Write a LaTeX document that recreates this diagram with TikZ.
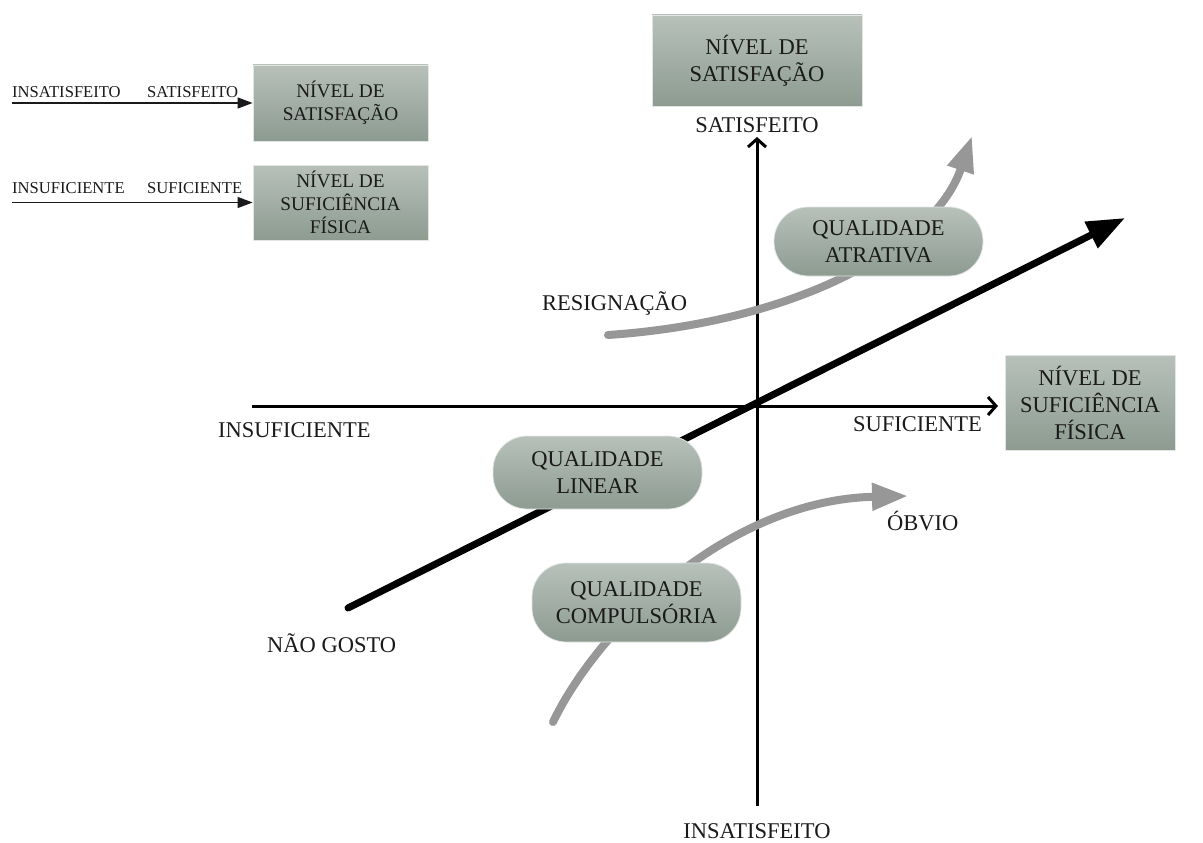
\documentclass[tikz,border=0pt]{standalone}
\usepackage{fontspec}
\setmainfont{Liberation Serif}
\usetikzlibrary{arrows.meta}
\definecolor{boxtop}{HTML}{B7C1BA}
\definecolor{boxbot}{HTML}{8D9B91}
\definecolor{boxedge}{HTML}{E2E6E3}
\definecolor{curvegray}{HTML}{979797}
\definecolor{ink}{HTML}{1A1A1A}
\begin{document}
\begin{tikzpicture}[x=1pt,y=-1pt,
  lab/.style={inner sep=0pt, text=ink, font=\fontsize{22.5}{27}\selectfont},
  smalllab/.style={inner sep=0pt, text=ink, font=\fontsize{16.6}{20}\selectfont},
  levelbox/.style={rectangle, draw=boxedge, line width=0.8pt, top color=boxtop, bottom color=boxbot,
    align=center, text=ink, inner sep=2pt, font=\fontsize{22.5}{27}\selectfont},
  smallbox/.style={levelbox, font=\fontsize{19.3}{23}\selectfont},
  qualbox/.style={levelbox, rounded corners=34pt, minimum width=209pt},
  axis/.style={line width=3pt, draw=black, -{Straight Barb[length=8pt,width=18pt]}},
  trend/.style={line width=7pt, draw=black, line cap=round, -{Triangle[length=38pt,width=28pt]}},
  path/.style={line width=8pt, draw=curvegray, line cap=round, -{Triangle[length=36pt,width=26pt]}},
  legendarrow/.style={line width=1.3pt, draw=ink, -{Triangle[length=15pt,width=11pt]}}
]
\useasboundingbox (0,0) rectangle (1203,843);

% axis end points and free ends of the curves
\coordinate (vbot) at (757,806);
\coordinate (vtop) at (757,137);
\coordinate (hleft) at (252,406);
\coordinate (hright) at (998,406);
\coordinate (tstart) at (348,608);
\coordinate (ttip) at (1125,218);
\coordinate (astart) at (608,335);
\coordinate (atip) at (972,136);
\coordinate (ostart) at (553,722);
\coordinate (otip) at (908,496);
\coordinate (l1) at (12,103);
\coordinate (l2) at (12,202.5);

% axes
\draw[axis] (vbot) -- (vtop);
\draw[axis] (hleft) -- (hright);

% quality curves (drawn under the boxes)
\draw[path] (astart) .. controls (800,322) and (935,245) .. (atip);
\draw[path] (ostart) .. controls (600,625) and (730,500) .. (otip);
\draw[trend] (tstart) -- (ttip);

% level boxes
\node[levelbox, minimum width=210pt, minimum height=91pt] (satbox) at (757,60.5) {NÍVEL DE\\SATISFAÇÃO};
\node[levelbox, minimum width=170pt, minimum height=95pt] (sufbox) at (1090,402.5) {NÍVEL DE\\SUFICIÊNCIA\\FÍSICA};
\node[smallbox, minimum width=175pt, minimum height=76pt] (lsat) at (340.5,103) {NÍVEL DE\\SATISFAÇÃO};
\node[smallbox, minimum width=175pt, minimum height=75pt] (lsuf) at (340.5,202.5) {NÍVEL DE\\SUFICIÊNCIA\\FÍSICA};

% quality boxes
\node[qualbox, minimum height=73pt] (linear) at (597.5,472.5) {QUALIDADE\\LINEAR};
\node[qualbox, minimum height=79pt] (compuls) at (636.5,602.5) {QUALIDADE\\COMPULSÓRIA};
\node[qualbox, minimum height=69pt] (atrat) at (878.5,241.5) {QUALIDADE\\ATRATIVA};

% legend arrows
\draw[legendarrow] (l1) -- (lsat.west);
\draw[legendarrow] (l2) -- (lsuf.west);
\node[smalllab, anchor=base west] (li1) at (12,97) {INSATISFEITO};
\node[smalllab, anchor=base west] (ls1) at (147,97) {SATISFEITO};
\node[smalllab, anchor=base west] (li2) at (12,193) {INSUFICIENTE};
\node[smalllab, anchor=base west] (ls2) at (147,193) {SUFICIENTE};

% axis labels
\node[lab, anchor=base] (satlab) at (757,132) {SATISFEITO};
\node[lab, anchor=base] (insatlab) at (757,838) {INSATISFEITO};
\node[lab, anchor=base west] (insuflab) at (218,437) {INSUFICIENTE};
\node[lab, anchor=base west] (suflab) at (853,431) {SUFICIENTE};
\node[lab, anchor=base west] (resig) at (542,310) {RESIGNAÇÃO};
\node[lab, anchor=base west] (obvio) at (887,530) {ÓBVIO};
\node[lab, anchor=base west] (naogosto) at (267,652) {NÃO GOSTO};
\end{tikzpicture}
\end{document}
